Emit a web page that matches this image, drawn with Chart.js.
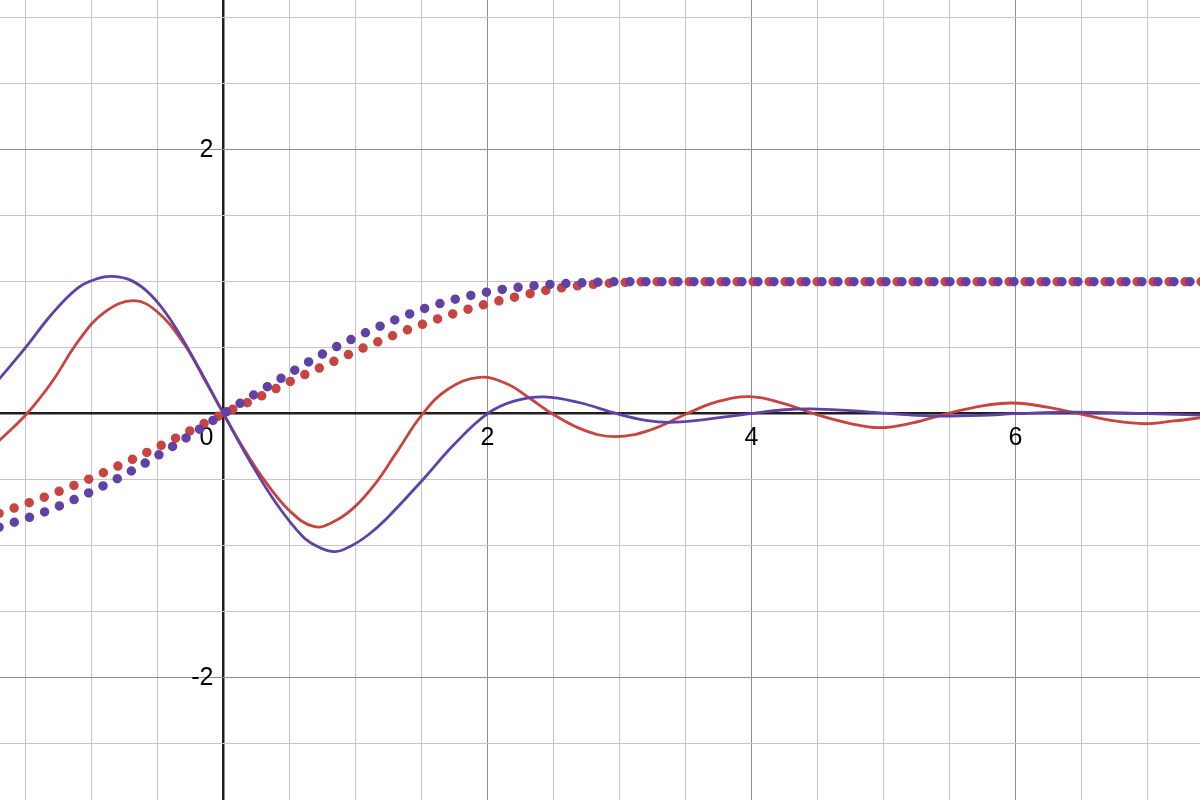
<!DOCTYPE html>
<html>
<head>
<meta charset="utf-8">
<title>Curves</title>
<script src="https://cdn.jsdelivr.net/npm/chart.js@4.4.1/dist/chart.umd.min.js"></script>
<style>
  html, body { margin: 0; padding: 0; background: #fff; }
  #wrap { width: 1200px; height: 800px; }
</style>
</head>
<body>
<div id="wrap"><canvas id="graph" width="1200" height="800"></canvas></div>
<script>
// visible window (graph units)
const xMin = -1.6932, xMax = 7.3977;
const yMin = -2.9265, yMax = 3.1341;
const gridStep = 0.5;
const majorStep = 2;

// axis tick labels
const xTickLabels = [2, 4, 6];
const yTickLabels = [2, -2];

// solid red curve
const redSolidX = [-1.70, -1.49, -1.30, -1.10, -0.90, -0.68, -0.50, -0.30, -0.15, 0, 0.15, 0.30, 0.50, 0.69, 0.85, 1.00, 1.15, 1.30, 1.51, 1.70, 1.94, 2.15, 2.32, 2.49, 2.73, 2.97, 3.23, 3.51, 3.74, 3.99, 4.24, 4.47, 4.75, 4.97, 5.22, 5.48, 5.75, 5.98, 6.24, 6.48, 6.75, 6.98, 7.20, 7.45];
const redSolidY = [-0.205, 0, 0.24, 0.55, 0.77, 0.856, 0.77, 0.53, 0.27, 0, -0.26, -0.49, -0.735, -0.856, -0.81, -0.70, -0.53, -0.31, 0, 0.185, 0.276, 0.225, 0.117, 0, -0.124, -0.174, -0.124, 0, 0.091, 0.129, 0.079, 0, -0.075, -0.106, -0.07, 0, 0.06, 0.081, 0.05, 0, -0.055, -0.076, -0.055, -0.025];

// solid purple curve
const purpleSolidX = [-1.70, -1.50, -1.30, -1.10, -0.95, -0.84, -0.70, -0.55, -0.40, -0.20, 0, 0.20, 0.40, 0.60, 0.72, 0.845, 0.97, 1.10, 1.24, 1.51, 1.75, 2.00, 2.20, 2.43, 2.70, 2.98, 3.20, 3.38, 3.61, 3.99, 4.25, 4.45, 4.75, 5.00, 5.25, 5.45, 5.75, 6.00, 6.45, 7.00, 7.45];
const purpleSolidY = [0.262, 0.50, 0.755, 0.955, 1.025, 1.04, 1.01, 0.90, 0.71, 0.37, 0, -0.36, -0.68, -0.93, -1.01, -1.045, -1.0, -0.915, -0.79, -0.50, -0.23, 0, 0.095, 0.128, 0.083, 0, -0.05, -0.065, -0.048, 0, 0.03, 0.037, 0.023, 0.005, -0.012, -0.018, -0.012, 0, 0.012, 0, -0.012];

// dotted red curve
const redDotX = [-1.70, -1.35, -1.00, -0.67, -0.34, 0, 0.25, 0.50, 0.75, 1.00, 1.25, 1.50, 1.75, 2.00, 2.25, 2.50, 2.75, 3.00, 3.25, 4.00, 5.00, 6.00, 7.00, 7.45];
const redDotY = [-0.755, -0.629, -0.487, -0.336, -0.174, 0, 0.116, 0.242, 0.357, 0.472, 0.578, 0.675, 0.760, 0.833, 0.893, 0.944, 0.976, 0.992, 1, 1, 1, 1, 1, 1];

// dotted purple curve
const purpleDotX = [-1.70, -1.35, -1.00, -0.68, -0.365, 0, 0.25, 0.50, 0.75, 1.00, 1.25, 1.50, 1.75, 2.00, 2.25, 2.50, 2.75, 3.00, 4.00, 5.00, 6.00, 7.00, 7.45];
const purpleDotY = [-0.860, -0.742, -0.590, -0.424, -0.235, 0, 0.155, 0.306, 0.452, 0.578, 0.690, 0.789, 0.866, 0.922, 0.960, 0.981, 0.993, 1, 1, 1, 1, 1, 1];

const RED = '#c74440';
const PURPLE = '#6042a6';

const toPoints = (xs, ys) => xs.map((x, i) => ({ x: x, y: ys[i] }));

const isMultiple = (v, step) => Math.abs(v / step - Math.round(v / step)) < 1e-6;

const gridColor = (ctx) => {
    const v = ctx.tick ? ctx.tick.value : NaN;
    if (Math.abs(v) < 1e-9) return '#1f1f1f';
    if (isMultiple(v, majorStep)) return '#8e8e8e';
    return '#c6c6c6';
};
const gridWidth = (ctx) => {
    const v = ctx.tick ? ctx.tick.value : NaN;
    return Math.abs(v) < 1e-9 ? 2.5 : 1;
};

// axis numbers drawn beside the axes, under the curves
const axisLabels = {
    id: 'axisLabels',
    beforeDatasetsDraw(chart) {
        const { ctx, scales } = chart;
        const x0 = scales.x.getPixelForValue(0);
        const y0 = scales.y.getPixelForValue(0);
        ctx.save();
        ctx.font = '25px "Liberation Sans", Arial, sans-serif';
        ctx.fillStyle = '#000';
        ctx.textBaseline = 'middle';

        ctx.textAlign = 'center';
        xTickLabels.forEach(v => {
            ctx.fillText(String(v), scales.x.getPixelForValue(v), y0 + 24);
        });

        ctx.textAlign = 'right';
        yTickLabels.forEach(v => {
            ctx.fillText(v < 0 ? '-' + Math.abs(v) : String(v), x0 - 10, scales.y.getPixelForValue(v));
        });
        ctx.fillText('0', x0 - 10, y0 + 24);
        ctx.restore();
    }
};

const dotted = (label, color, xs, ys) => ({
    label: label,
    data: toPoints(xs, ys),
    borderColor: color,
    borderWidth: 9.5,
    borderDash: [0, 16],
    borderCapStyle: 'round',
    cubicInterpolationMode: 'monotone',
    pointRadius: 0,
    fill: false
});

const solid = (label, color, xs, ys) => ({
    label: label,
    data: toPoints(xs, ys),
    borderColor: color,
    borderWidth: 2.8,
    tension: 0.4,
    pointRadius: 0,
    fill: false
});

new Chart(document.getElementById('graph').getContext('2d'), {
    type: 'line',
    data: {
        datasets: [
            dotted('purple dotted', PURPLE, purpleDotX, purpleDotY),
            dotted('red dotted', RED, redDotX, redDotY),
            solid('purple', PURPLE, purpleSolidX, purpleSolidY),
            solid('red', RED, redSolidX, redSolidY)
        ]
    },
    options: {
        responsive: false,
        animation: false,
        events: [],
        layout: { padding: 0 },
        plugins: { legend: { display: false }, tooltip: { enabled: false } },
        scales: {
            x: {
                type: 'linear',
                min: xMin,
                max: xMax,
                border: { display: false },
                ticks: { display: false, stepSize: gridStep, includeBounds: false },
                grid: { color: gridColor, lineWidth: gridWidth, drawTicks: false }
            },
            y: {
                type: 'linear',
                min: yMin,
                max: yMax,
                border: { display: false },
                ticks: { display: false, stepSize: gridStep, includeBounds: false },
                grid: { color: gridColor, lineWidth: gridWidth, drawTicks: false }
            }
        }
    },
    plugins: [axisLabels]
});
</script>
</body>
</html>
